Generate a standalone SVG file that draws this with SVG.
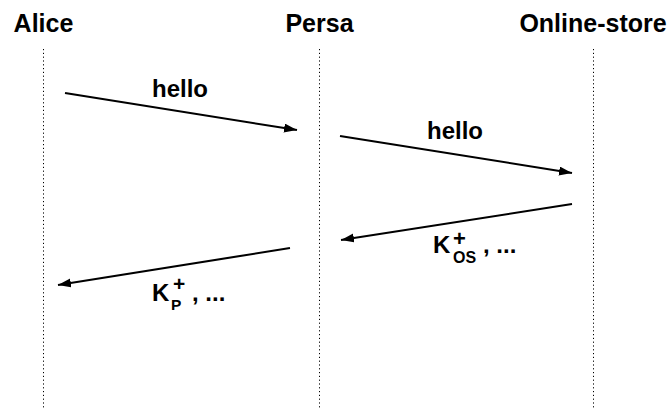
<svg xmlns="http://www.w3.org/2000/svg" width="670" height="408" viewBox="0 0 670 408">
<style>
text{font-family:"Liberation Sans",Arial,sans-serif;font-weight:bold;fill:#000}
.title{font-size:25px}
.lbl{font-size:24px}
.sup{font-size:22px}
.sub{font-size:16px}
.life{stroke:#000;stroke-width:1;stroke-dasharray:1.2 2.6;fill:none}
.msg{stroke:#000;stroke-width:2;fill:none;marker-end:url(#ah)}
</style>
<defs>
<marker id="ah" markerUnits="userSpaceOnUse" markerWidth="14" markerHeight="10" refX="13" refY="4.5" orient="auto">
<path d="M0,0 L13,4.5 L0,9 Z" fill="#000"/>
</marker>
</defs>
<rect width="670" height="408" fill="#fff"/>
<g id="alice">
<text class="title" x="43.5" y="32" text-anchor="middle">Alice</text>
<line class="life" x1="43.5" y1="49" x2="43.5" y2="408"/>
</g>
<g id="persa">
<text class="title" x="319.5" y="32" text-anchor="middle">Persa</text>
<line class="life" x1="319.5" y1="49" x2="319.5" y2="408"/>
</g>
<g id="online-store">
<text class="title" x="593" y="32" text-anchor="middle">Online-store</text>
<line class="life" x1="593.5" y1="49" x2="593.5" y2="408"/>
</g>
<g id="connectors">
<line class="msg" x1="65" y1="93" x2="297" y2="130"/>
<line class="msg" x1="340" y1="136" x2="572" y2="173"/>
<line class="msg" x1="572" y1="204" x2="341" y2="240"/>
<line class="msg" x1="290" y1="248" x2="58" y2="285"/>
</g>
<g id="labels">
<text class="lbl" x="152" y="97">hello</text>
<text class="lbl" x="427" y="139">hello</text>
<text class="lbl" x="433" y="253">K<tspan class="sup" x="453" y="245.5">+</tspan><tspan class="sub" x="453" y="263">OS</tspan><tspan x="483" y="253">, ...</tspan></text>
<text class="lbl" x="152" y="301">K<tspan class="sup" x="173" y="291" style="font-size:21px">+</tspan><tspan class="sub" x="171" y="309.5" style="font-size:15.5px">P</tspan><tspan x="192" y="301">, ...</tspan></text>
</g>
</svg>
